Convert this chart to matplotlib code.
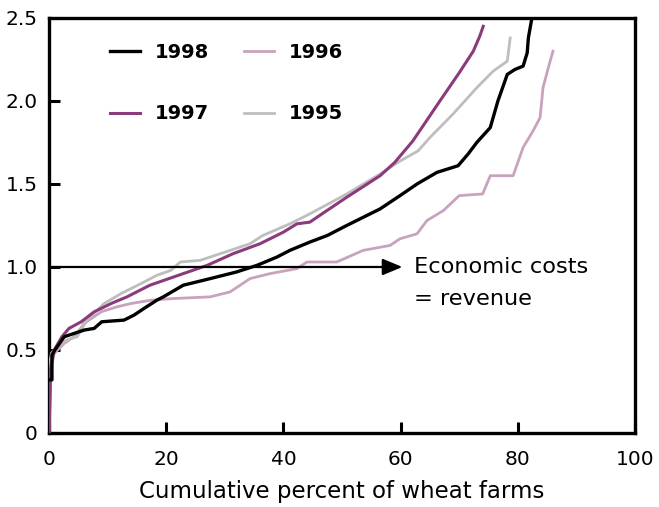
import matplotlib
matplotlib.use("Agg")
import matplotlib.pyplot as plt

plt.rcParams['font.family'] = ['DejaVu Sans']

# Data
x1998 = [0, 0.5, 0.5, 1.0, 2.6, 4.3, 6.0, 7.7, 9.0, 12.8, 14.5, 16.2, 18.4, 19.5, 22.9, 27.5, 32.0, 35.5, 38.9, 41.1, 44.5, 47.5, 50.8, 56.5, 59.9, 62.8, 66.2, 69.8, 71.5, 73.0, 75.3, 76.6, 78.2, 79.5, 80.9, 81.6, 81.8, 82.4]
y1998 = [0.32, 0.32, 0.47, 0.50, 0.58, 0.60, 0.62, 0.63, 0.67, 0.68, 0.71, 0.75, 0.80, 0.82, 0.89, 0.93, 0.97, 1.01, 1.06, 1.10, 1.15, 1.19, 1.25, 1.35, 1.43, 1.50, 1.57, 1.61, 1.68, 1.75, 1.84, 2.00, 2.16, 2.19, 2.21, 2.29, 2.38, 2.50]

x1997 = [0, 0.3, 0.9, 2.2, 3.4, 5.5, 7.7, 10.6, 13.3, 17.2, 22.9, 27.0, 31.4, 36.0, 40.0, 42.3, 44.5, 47.0, 50.8, 53.0, 56.5, 59.0, 62.1, 66.7, 70.0, 72.4, 73.5, 74.1]
y1997 = [0.0, 0.40, 0.50, 0.58, 0.63, 0.67, 0.73, 0.78, 0.82, 0.89, 0.96, 1.01, 1.08, 1.14, 1.21, 1.26, 1.27, 1.33, 1.42, 1.47, 1.55, 1.63, 1.76, 2.00, 2.17, 2.30, 2.39, 2.45]

x1996 = [0, 0.3, 0.9, 2.6, 4.3, 6.0, 8.9, 11.6, 14.0, 17.4, 21.3, 27.5, 30.9, 34.3, 37.7, 42.3, 44.0, 49.1, 53.6, 58.2, 59.9, 62.8, 64.5, 67.3, 70.0, 74.0, 75.3, 79.2, 80.9, 82.6, 83.8, 84.3, 85.2, 86.0]
y1996 = [0.0, 0.38, 0.48, 0.54, 0.58, 0.66, 0.73, 0.76, 0.78, 0.80, 0.81, 0.82, 0.85, 0.93, 0.96, 0.99, 1.03, 1.03, 1.10, 1.13, 1.17, 1.20, 1.28, 1.34, 1.43, 1.44, 1.55, 1.55, 1.72, 1.82, 1.90, 2.08, 2.20, 2.30]

x1995 = [0, 0.4, 1.4, 3.0, 4.8, 6.5, 9.4, 12.3, 15.7, 18.4, 20.8, 22.4, 25.8, 29.2, 34.3, 36.5, 41.1, 44.5, 50.8, 56.5, 60.0, 63.0, 65.0, 68.9, 73.0, 75.8, 78.2, 78.7]
y1995 = [0.40, 0.48, 0.52, 0.56, 0.58, 0.68, 0.78, 0.84, 0.90, 0.95, 0.98, 1.03, 1.04, 1.08, 1.14, 1.19, 1.26, 1.32, 1.44, 1.56, 1.64, 1.70, 1.78, 1.92, 2.08, 2.18, 2.24, 2.38]

xticks = [0, 20, 40, 60, 80, 100]
xtick_labels = ['0', '20', '40', '60', '80', '100']
yticks = [0, 0.5, 1.0, 1.5, 2.0, 2.5]
ytick_labels = ['0', '0.5', '1.0', '1.5', '2.0', '2.5']

labels = ['1998', '1997', '1996', '1995']
colors = ['#000000', '#8B3A7B', '#C9A2BD', '#BEBEBE']
widths = [2.4, 2.2, 2.0, 2.0]

fig = plt.figure(figsize=(6.59, 5.07), dpi=100)
ax = fig.add_axes([0.0744, 0.146, 0.8892, 0.8185])

series = [(x1998, y1998), (x1997, y1997), (x1996, y1996), (x1995, y1995)]
zorders = [5, 4, 3, 3]
for (xs, ys), lab, c, w, z in zip(series, labels, colors, widths, zorders):
    ax.plot(xs, ys, color=c, lw=w, zorder=z, label=lab)

ax.set_xlim(0, 100)
ax.set_ylim(0, 2.5)
ax.set_xticks(xticks)
ax.set_xticklabels(xtick_labels)
ax.set_yticks(yticks)
ax.set_yticklabels(ytick_labels)
ax.tick_params(direction='in', length=8, width=2.2, labelsize=14.5, colors='black', pad=8)
ax.tick_params(axis='x', pad=12)
for s in ax.spines.values():
    s.set_linewidth(2.4)

ax.set_xlabel('Cumulative percent of wheat farms', fontsize=16.5, labelpad=8)

# Arrow at economic costs = revenue
ax.annotate('', xy=(60.3, 1.0), xytext=(0, 1.0),
            arrowprops=dict(arrowstyle='-|>,head_length=1.2,head_width=0.5', color='black', lw=1.6,
                            shrinkA=0, shrinkB=0), zorder=6)
ax.text(62.2, 1.0, 'Economic costs', fontsize=16.2, va='center', ha='left')
ax.text(62.2, 0.81, '= revenue', fontsize=16.2, va='center', ha='left')

leg = ax.legend(ncol=2, loc='upper left', bbox_to_anchor=(0.075, 0.983),
                frameon=False, prop={'weight': 'bold', 'size': 14}, handlelength=1.5,
                labelspacing=2.2, columnspacing=1.8, handletextpad=0.8)

fig.savefig('out.png', dpi=100)
